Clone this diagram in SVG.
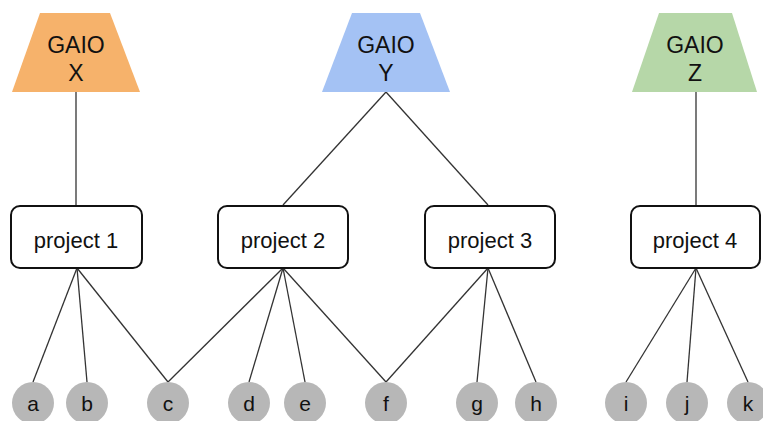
<svg xmlns="http://www.w3.org/2000/svg" width="763" height="421" viewBox="0 0 763 421">
<style>
.t{font-family:"Liberation Sans",Arial,sans-serif;fill:#111;text-anchor:middle}
.g{font-size:23px}
.pr{font-size:22px}
.l{font-size:21px}
.box{fill:#fff;stroke:#111;stroke-width:2}
.leaf{fill:#b7b7b7}
.c line{stroke:#333;stroke-width:1.3}
</style>
<rect width="763" height="421" fill="#fff"/>
<g class="c">
<line x1="76" y1="92" x2="76" y2="205"/>
<line x1="386" y1="92" x2="283" y2="205"/>
<line x1="386" y1="92" x2="488" y2="205"/>
<line x1="696" y1="92" x2="696" y2="205"/>
<line x1="77" y1="268" x2="33" y2="382"/>
<line x1="77" y1="268" x2="87" y2="382"/>
<line x1="77" y1="268" x2="168" y2="382"/>
<line x1="283" y1="268" x2="168" y2="382"/>
<line x1="283" y1="268" x2="249" y2="382"/>
<line x1="283" y1="268" x2="305" y2="382"/>
<line x1="283" y1="268" x2="386" y2="382"/>
<line x1="488" y1="268" x2="386" y2="382"/>
<line x1="488" y1="268" x2="477" y2="382"/>
<line x1="488" y1="268" x2="536" y2="382"/>
<line x1="696" y1="268" x2="626" y2="382"/>
<line x1="696" y1="268" x2="687" y2="382"/>
<line x1="696" y1="268" x2="748" y2="382"/>
</g>
<g id="gaio-x"><polygon points="40,13 110,13 140,92 12,92" fill="#f6b26b"/><text class="t g" x="76" y="53">GAIO</text><text class="t g" x="76" y="81">X</text></g>
<g id="gaio-y"><polygon points="352,13 420,13 450,92 322,92" fill="#a4c2f4"/><text class="t g" x="386" y="53">GAIO</text><text class="t g" x="386" y="81">Y</text></g>
<g id="gaio-z"><polygon points="659,13 732,13 757,92 632,92" fill="#b6d7a8"/><text class="t g" x="695" y="53">GAIO</text><text class="t g" x="695" y="81">Z</text></g>
<g id="project-1"><rect class="box" x="11" y="206" width="131" height="62" rx="9"/><text class="t pr" x="76" y="248">project 1</text></g>
<g id="project-2"><rect class="box" x="218" y="206" width="130" height="62" rx="9"/><text class="t pr" x="283" y="248">project 2</text></g>
<g id="project-3"><rect class="box" x="425" y="206" width="130" height="62" rx="9"/><text class="t pr" x="490" y="248">project 3</text></g>
<g id="project-4"><rect class="box" x="631" y="206" width="129" height="62" rx="9"/><text class="t pr" x="695" y="248">project 4</text></g>
<g id="a"><circle class="leaf" cx="33" cy="403" r="21"/><text class="t l" x="33" y="411">a</text></g>
<g id="b"><circle class="leaf" cx="87" cy="403" r="21"/><text class="t l" x="87" y="411">b</text></g>
<g id="c"><circle class="leaf" cx="168" cy="403" r="21"/><text class="t l" x="168" y="411">c</text></g>
<g id="d"><circle class="leaf" cx="249" cy="403" r="21"/><text class="t l" x="249" y="411">d</text></g>
<g id="e"><circle class="leaf" cx="305" cy="403" r="21"/><text class="t l" x="305" y="411">e</text></g>
<g id="f"><circle class="leaf" cx="386" cy="403" r="21"/><text class="t l" x="386" y="411">f</text></g>
<g id="g"><circle class="leaf" cx="477" cy="403" r="21"/><text class="t l" x="477" y="411">g</text></g>
<g id="h"><circle class="leaf" cx="536" cy="403" r="21"/><text class="t l" x="536" y="411">h</text></g>
<g id="i"><circle class="leaf" cx="626" cy="403" r="21"/><text class="t l" x="626" y="411">i</text></g>
<g id="j"><circle class="leaf" cx="687" cy="403" r="21"/><text class="t l" x="687" y="411">j</text></g>
<g id="k"><circle class="leaf" cx="748" cy="403" r="21"/><text class="t l" x="748" y="411">k</text></g>
</svg>
